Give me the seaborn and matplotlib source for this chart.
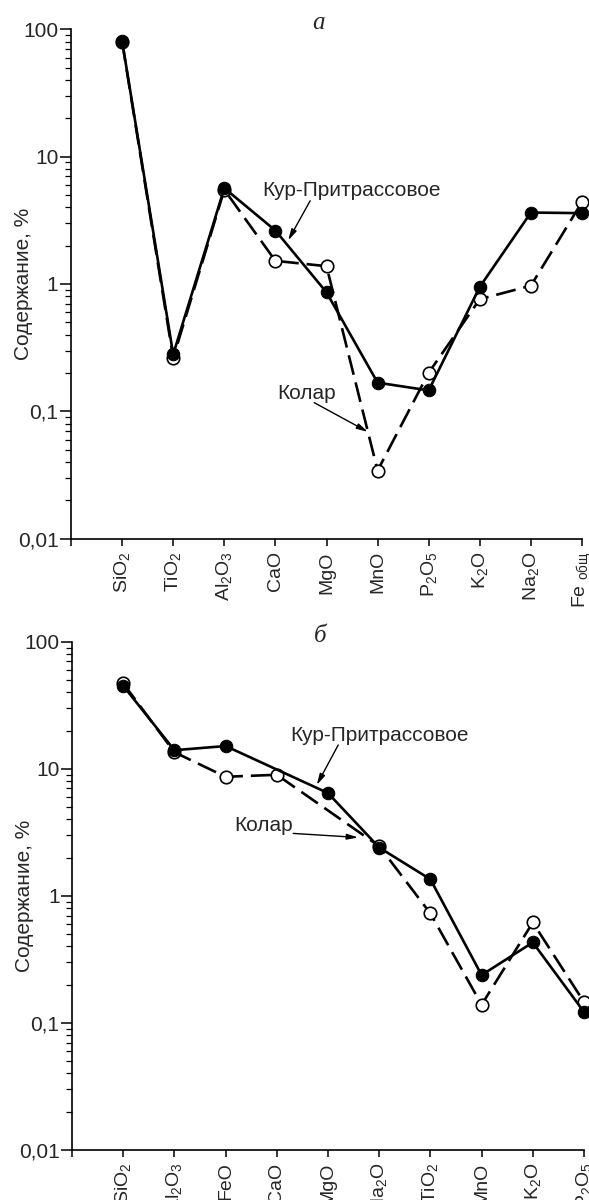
import numpy as np
import pandas as pd
import matplotlib
matplotlib.use("Agg")
import matplotlib.pyplot as plt
import seaborn as sns
from matplotlib.ticker import FixedLocator, FixedFormatter, LogLocator, NullFormatter

sns.set_theme(style="white")
plt.rcParams["font.family"] = ["Liberation Sans", "DejaVu Sans"]
plt.rcParams["mathtext.fontset"] = "custom"
plt.rcParams["mathtext.rm"] = "Liberation Sans"
plt.rcParams["mathtext.it"] = "Liberation Sans:italic"

# --- panel a: oxide contents, % ---
oxides_a = ["SiO$_2$", "TiO$_2$", "Al$_2$O$_3$", "CaO", "MgO", "MnO",
            "P$_2$O$_5$", "K$_2$O", "Na$_2$O", "Fe $_{\\mathregular{общ}}$"]
kur_a = [81, 0.28, 5.66, 2.63, 0.86, 0.168, 0.146, 0.95, 3.64, 3.6]
kolar_a = [80, 0.262, 5.5, 1.52, 1.38, 0.0343, 0.201, 0.76, 0.97, 4.4]

# --- panel b ---
oxides_b = ["SiO$_2$", "Al$_2$O$_3$", "FeO", "CaO", "MgO", "Na$_2$O",
            "TiO$_2$", "MnO", "K$_2$O", "P$_2$O$_5$"]
kur_b = [45, 14.0, 15.1, np.nan, 6.44, 2.4, 1.35, 0.238, 0.43, 0.122]
kolar_b = [47, 13.5, 8.65, 8.97, np.nan, 2.46, 0.727, 0.139, 0.617, 0.146]

ytick_vals = [0.01, 0.1, 1, 10, 100]
ytick_text = ["0,01", "0,1", "1", "10", "100"]
label_kur = "Кур-Притрассовое"
label_kolar = "Колар"
ylabel = "Содержание, %"

W, H = 589, 1200
fig = plt.figure(figsize=(W / 100, H / 100), dpi=100)
fig.patch.set_facecolor("white")


def px_axes(left, right, top, bottom):
    return fig.add_axes([left / W, 1 - bottom / H, (right - left) / W, (bottom - top) / H])


def draw_panel(ax, names, kur, kolar, notes):
    pos = np.arange(1, len(names) + 1)
    df_kolar = pd.DataFrame({"pos": pos, "val": kolar}).dropna()
    df_kur = pd.DataFrame({"pos": pos, "val": kur}).dropna()

    sns.lineplot(data=df_kolar, x="pos", y="val", ax=ax, color="black",
                 linewidth=1.9, linestyle=(0, (7.6, 3.0)), marker="o",
                 markersize=9, markerfacecolor="white", markeredgecolor="black",
                 markeredgewidth=1.2, estimator=None, sort=False, zorder=3,
                 clip_on=False)
    sns.lineplot(data=df_kur, x="pos", y="val", ax=ax, color="black",
                 linewidth=1.9, marker="o", markersize=9,
                 markerfacecolor="black", markeredgecolor="black",
                 estimator=None, sort=False, zorder=4, clip_on=False)

    ax.set_yscale("log")
    ax.set_xlim(0, 10)
    ax.set_ylim(0.01, 100)
    ax.set_xticks(np.arange(0, 11))
    ax.set_xticklabels([""] + names, rotation=90, fontsize=14)
    ax.yaxis.set_major_locator(FixedLocator(ytick_vals))
    ax.yaxis.set_major_formatter(FixedFormatter(ytick_text))
    ax.yaxis.set_minor_locator(LogLocator(base=10, subs=np.arange(2, 10)))
    ax.yaxis.set_minor_formatter(NullFormatter())
    ax.tick_params(axis="y", which="major", direction="out", length=8,
                   width=1.1, labelsize=15, pad=1, color="black", left=True)
    ax.tick_params(axis="y", which="minor", direction="out", length=4.3,
                   width=0.9, color="black", left=True)
    ax.tick_params(axis="x", which="major", direction="out", length=5,
                   width=1.1, pad=4, color="black", bottom=True)
    ax.set_xlabel("")
    ax.set_ylabel(ylabel, fontsize=15)
    ax.yaxis.set_label_coords(-0.075, 0.5)
    for s in ("top", "right"):
        ax.spines[s].set_visible(False)
    for s in ("left", "bottom"):
        ax.spines[s].set_color("black")
        ax.spines[s].set_linewidth(1.2)
    ax.grid(False)
    ax.set_facecolor("white")

    for text, txy, tail, head in notes:
        ax.text(txy[0], txy[1], text, fontsize=15, ha="center", va="center",
                zorder=6)
        ax.annotate("", xy=head, xytext=tail,
                    arrowprops=dict(arrowstyle="-|>,head_length=0.55,head_width=0.14",
                                    color="black", lw=1.0, shrinkA=0, shrinkB=0),
                    zorder=6)


ax_a = px_axes(71, 582, 29.3, 538.7)
draw_panel(ax_a, oxides_a, kur_a, kolar_a, [
    (label_kur, (5.48, 5.4), (4.68, 4.5), (4.25, 2.2)),
    (label_kolar, (4.61, 0.139), (4.76, 0.117), (5.81, 0.069)),
])
ax_a.text(0.485, 1.0, "а", transform=ax_a.transAxes, ha="center", va="baseline",
          fontsize=18, family="Liberation Serif", style="italic")

ax_b = px_axes(72, 584, 641.7, 1150)
draw_panel(ax_b, oxides_b, kur_b, kolar_b, [
    (label_kur, (6.0, 18.4), (5.2, 15.4), (4.78, 7.45)),
    (label_kolar, (3.75, 3.6), (4.32, 3.1), (5.59, 2.88)),
])
ax_b.text(0.485, 1.0, "б", transform=ax_b.transAxes, ha="center", va="baseline",
          fontsize=18, family="Liberation Serif", style="italic")

fig.savefig("out.png", dpi=100, facecolor="white")
